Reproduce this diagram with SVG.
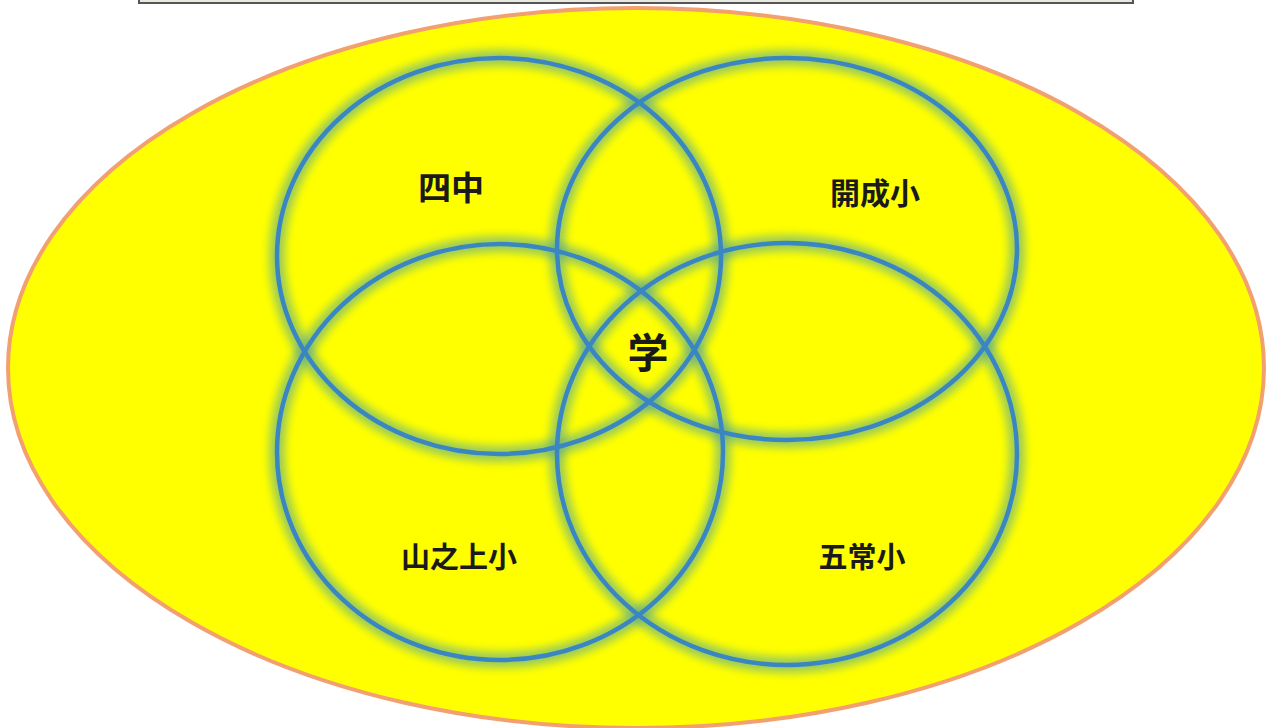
<svg xmlns="http://www.w3.org/2000/svg" width="1273" height="728" viewBox="0 0 1273 728">
<defs>
<style>
.ring{fill:none;stroke:#3a86c2;stroke-width:4.5}
.glow{fill:none;stroke:#4aa0a0;stroke-width:16;opacity:0.55;filter:url(#blur)}
.lbl{font-family:"Noto Sans CJK JP","Noto Sans CJK SC",sans-serif;fill:#1a1a1a;text-anchor:middle;dominant-baseline:central;font-weight:bold}
</style>
<filter id="blur" x="-10%" y="-10%" width="120%" height="120%"><feGaussianBlur stdDeviation="4"/></filter>
</defs>
<rect x="0" y="0" width="1273" height="728" fill="#ffffff"/>
<rect x="139" y="-10" width="994" height="13" fill="#e8e8e0" stroke="#555" stroke-width="2"/>
<g id="field">
<ellipse cx="636" cy="368" rx="628" ry="360" fill="#ffff00" stroke="#f2a070" stroke-width="4"/>
</g>
<g id="connectors">
<ellipse class="glow" cx="499" cy="256" rx="222" ry="198"/>
<ellipse class="glow" cx="787" cy="249" rx="230" ry="191"/>
<ellipse class="glow" cx="500" cy="452" rx="223" ry="208"/>
<ellipse class="glow" cx="787" cy="454" rx="230" ry="211"/>
</g>
<g id="c-yonchu"><ellipse class="ring" cx="499" cy="256" rx="222" ry="198"/><text class="lbl" x="451" y="186" font-size="33">四中</text></g>
<g id="c-kaisei"><ellipse class="ring" cx="787" cy="249" rx="230" ry="191"/><text class="lbl" x="875" y="191" font-size="30">開成小</text></g>
<g id="c-yamanoue"><ellipse class="ring" cx="500" cy="452" rx="223" ry="208"/><text class="lbl" x="459" y="555" font-size="29">山之上小</text></g>
<g id="c-gojo"><ellipse class="ring" cx="787" cy="454" rx="230" ry="211"/><text class="lbl" x="862" y="555" font-size="29">五常小</text></g>
<g id="center"><text class="lbl" x="648" y="350" font-size="41">学</text></g>
</svg>
